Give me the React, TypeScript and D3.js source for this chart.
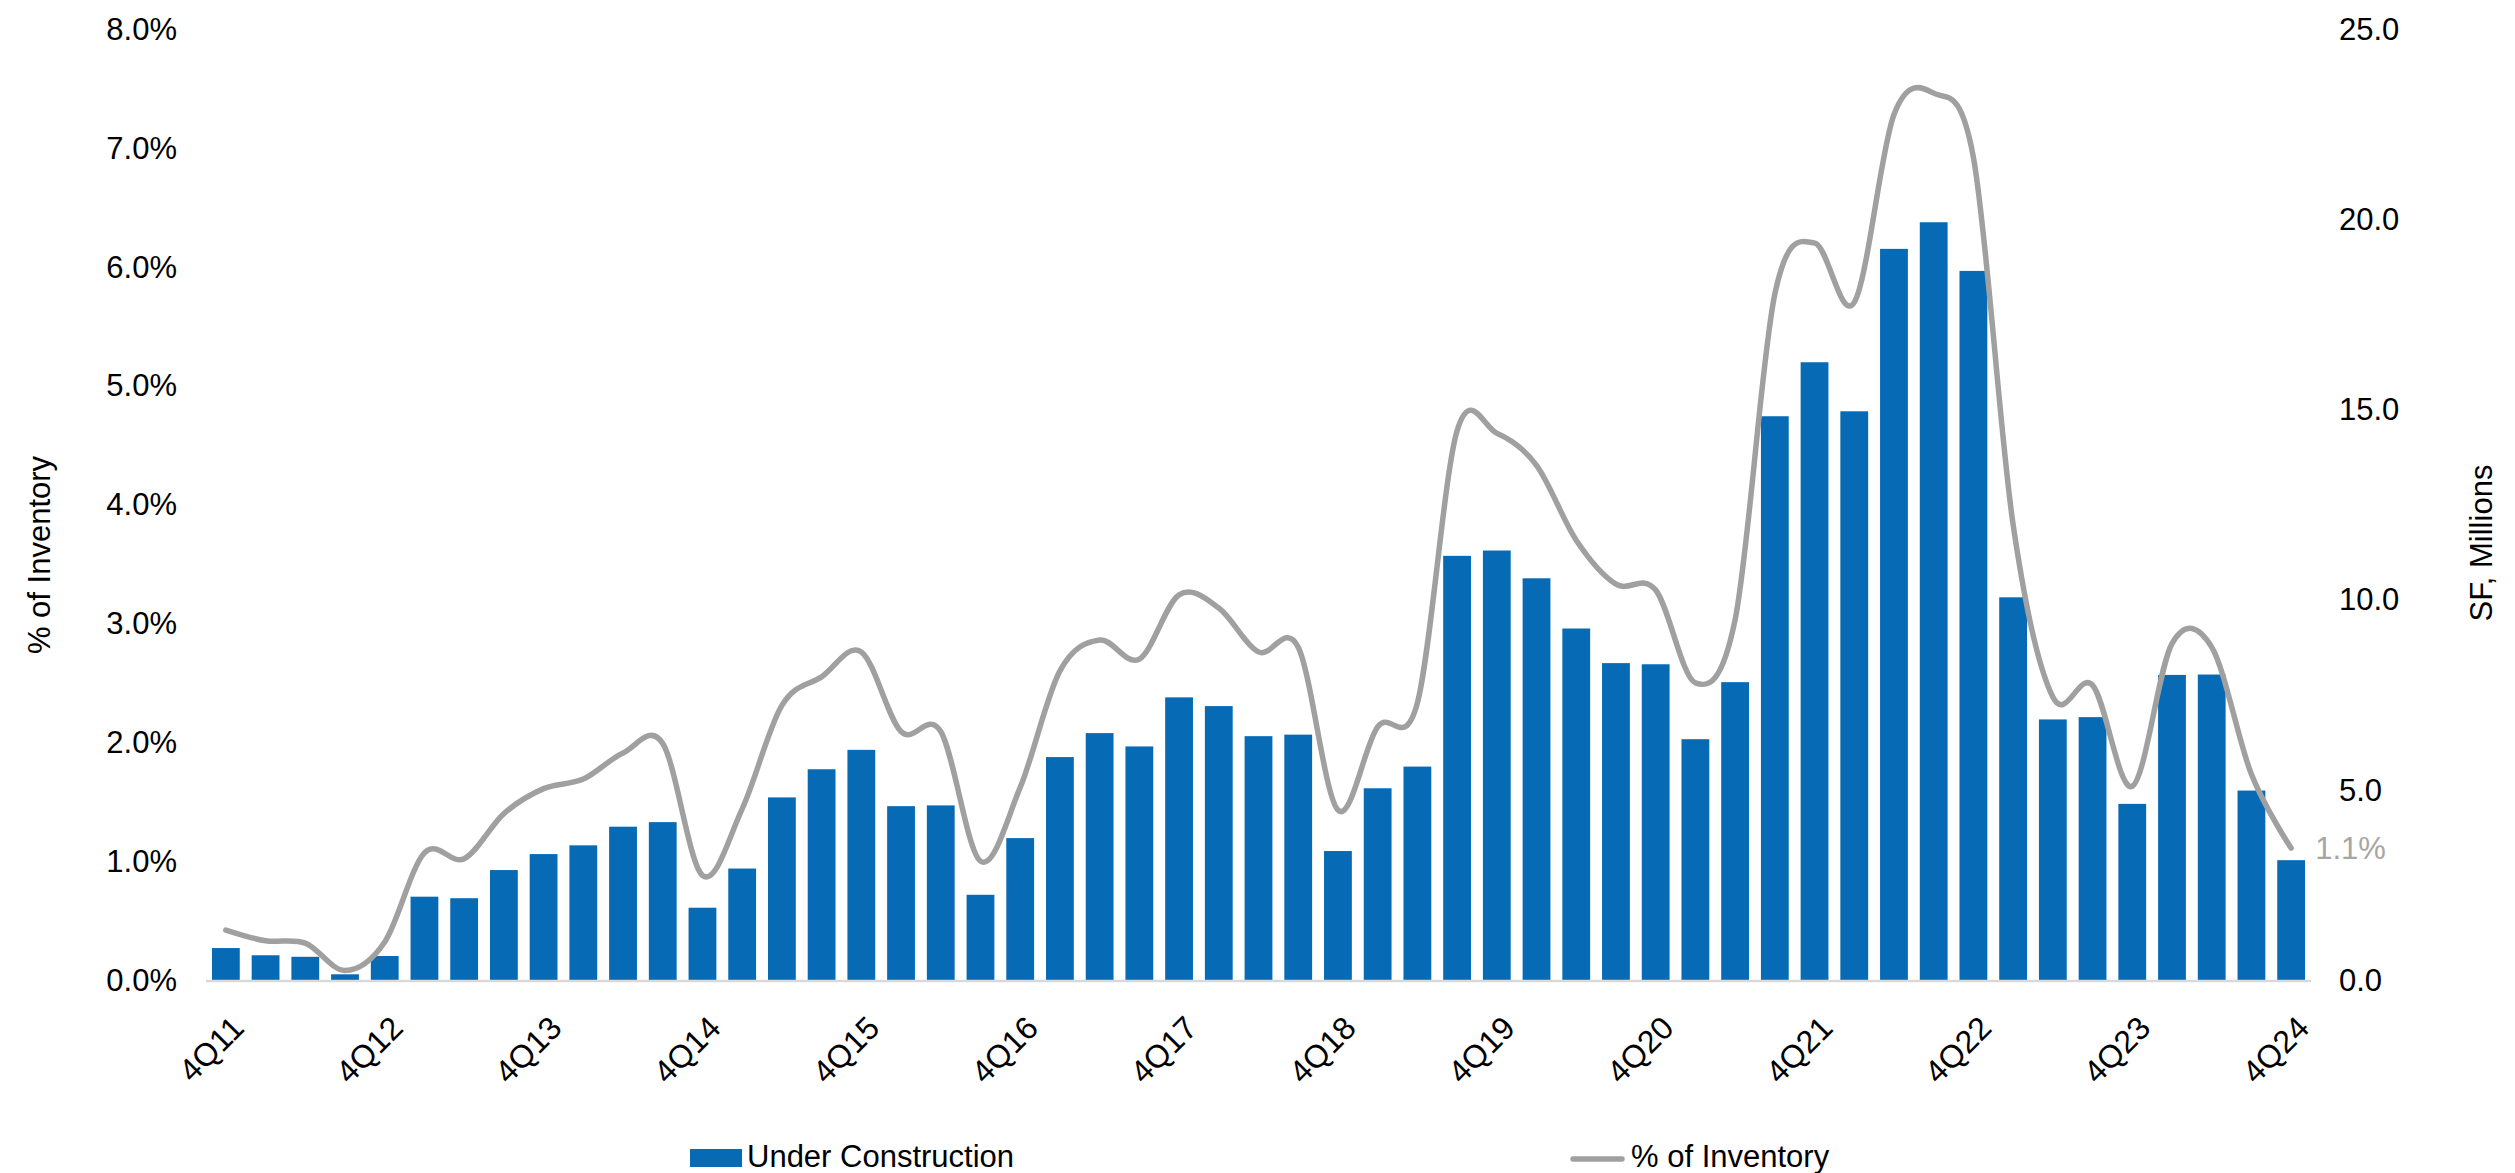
import React from 'react';
import * as d3 from 'd3';

const quarters = [
  '4Q11', '1Q12', '2Q12', '3Q12', '4Q12', '1Q13', '2Q13', '3Q13', '4Q13',
  '1Q14', '2Q14', '3Q14', '4Q14', '1Q15', '2Q15', '3Q15', '4Q15',
  '1Q16', '2Q16', '3Q16', '4Q16', '1Q17', '2Q17', '3Q17', '4Q17',
  '1Q18', '2Q18', '3Q18', '4Q18', '1Q19', '2Q19', '3Q19', '4Q19',
  '1Q20', '2Q20', '3Q20', '4Q20', '1Q21', '2Q21', '3Q21', '4Q21',
  '1Q22', '2Q22', '3Q22', '4Q22', '1Q23', '2Q23', '3Q23', '4Q23',
  '1Q24', '2Q24', '3Q24', '4Q24',
];

// SF under construction, millions (right axis)
const underConstruction = [
  0.84, 0.65, 0.61, 0.15, 0.63, 2.19, 2.15, 2.89, 3.31,
  3.54, 4.03, 4.15, 1.90, 2.93, 4.80, 5.54, 6.05,
  4.57, 4.59, 2.24, 3.73, 5.86, 6.49, 6.14, 7.43,
  7.20, 6.41, 6.45, 3.39, 5.04, 5.61, 11.15, 11.29,
  10.56, 9.24, 8.33, 8.30, 6.33, 7.83, 14.82, 16.24,
  14.95, 19.22, 19.92, 18.64, 10.06, 6.85, 6.91, 4.63,
  8.02, 8.03, 4.98, 3.15,
];

// % of inventory (left axis)
const pctInventory = [
  0.42, 0.33, 0.31, 0.08, 0.32, 1.07, 1.02, 1.40, 1.61,
  1.69, 1.91, 1.99, 0.88, 1.44, 2.31, 2.55, 2.76,
  2.09, 2.09, 1.00, 1.62, 2.60, 2.86, 2.70, 3.24,
  3.13, 2.76, 2.80, 1.43, 2.13, 2.33, 4.62, 4.60,
  4.33, 3.70, 3.33, 3.28, 2.50, 3.03, 5.77, 6.20,
  5.70, 7.28, 7.46, 6.92, 3.83, 2.38, 2.48, 1.63,
  2.83, 2.80, 1.73, 1.11,
];

const xTickLabels = ['4Q11', '4Q12', '4Q13', '4Q14', '4Q15', '4Q16', '4Q17', '4Q18', '4Q19', '4Q20', '4Q21', '4Q22', '4Q23', '4Q24'];
const leftTicks = [0, 1, 2, 3, 4, 5, 6, 7, 8];
const rightTicks = [0, 5, 10, 15, 20, 25];

const W = 2515;
const H = 1173;
const FONT = '"Liberation Sans", Arial, sans-serif';
const BAR = '#066ab4';
const LINE = '#a0a0a0';

const App: React.FC = () => {
  const plotTop = 29;
  const plotBottom = 980;

  const x = d3.scaleBand<string>()
    .domain(quarters)
    .range([206, 2311])
    .paddingInner(0.3)
    .paddingOuter(0.15);

  const yLeft = d3.scaleLinear().domain([0, 8]).range([plotBottom, plotTop]);
  const yRight = d3.scaleLinear().domain([0, 25]).range([plotBottom, plotTop]);

  const cx = (q: string) => (x(q) ?? 0) + x.bandwidth() / 2;

  const line = d3.line<number>()
    .x((_, i) => cx(quarters[i]))
    .y((d) => yLeft(d))
    .curve(d3.curveCardinal.tension(0));

  const last = quarters.length - 1;
  const lastX = cx(quarters[last]);
  const lastY = yLeft(pctInventory[last]);

  return (
    <svg
      width={W}
      height={H}
      style={{ position: 'absolute', left: 0, top: 0, background: '#fff' }}
      fontFamily={FONT}
    >
      {/* bars */}
      {underConstruction.map((v, i) => (
        <rect
          key={quarters[i]}
          x={x(quarters[i])}
          y={yRight(v)}
          width={x.bandwidth()}
          height={plotBottom - yRight(v)}
          fill={BAR}
        />
      ))}

      {/* baseline */}
      <line x1={206} x2={2311} y1={plotBottom + 1} y2={plotBottom + 1} stroke="#d9d9d9" strokeWidth={2.5} />

      {/* % of inventory line */}
      <path d={line(pctInventory) ?? ''} fill="none" stroke={LINE} strokeWidth={5.5} strokeLinecap="round" strokeLinejoin="round" />
      <text x={lastX + 24} y={lastY} dy="0.35em" fontSize={31} fill="#a6a6a6">1.1%</text>

      {/* left axis */}
      {leftTicks.map((t) => (
        <text key={t} x={177} y={yLeft(t)} dy="0.35em" textAnchor="end" fontSize={31} fill="#000">
          {d3.format('.1f')(t)}%
        </text>
      ))}
      <text transform={`translate(50,555) rotate(-90)`} textAnchor="middle" fontSize={31} fill="#000">% of Inventory</text>

      {/* right axis */}
      {rightTicks.map((t) => (
        <text key={t} x={2339} y={yRight(t)} dy="0.35em" textAnchor="start" fontSize={31} fill="#000">
          {d3.format('.1f')(t)}
        </text>
      ))}
      <text transform={`translate(2492,543) rotate(-90)`} textAnchor="middle" fontSize={31} fill="#000">SF, Millions</text>

      {/* x axis labels */}
      {xTickLabels.map((q) => (
        <text
          key={q}
          transform={`translate(${cx(q) + 20},1030) rotate(-45)`}
          textAnchor="end"
          fontSize={32}
          fill="#000"
        >
          {q}
        </text>
      ))}

      {/* legend */}
      <rect x={690} y={1149} width={52} height={18} fill={BAR} />
      <text x={747} y={1167} fontSize={31} fill="#000">Under Construction</text>
      <line x1={1573} x2={1622} y1={1159} y2={1159} stroke={LINE} strokeWidth={5.5} strokeLinecap="round" />
      <text x={1631} y={1167} fontSize={31} fill="#000">% of Inventory</text>
    </svg>
  );
};

export default App;
